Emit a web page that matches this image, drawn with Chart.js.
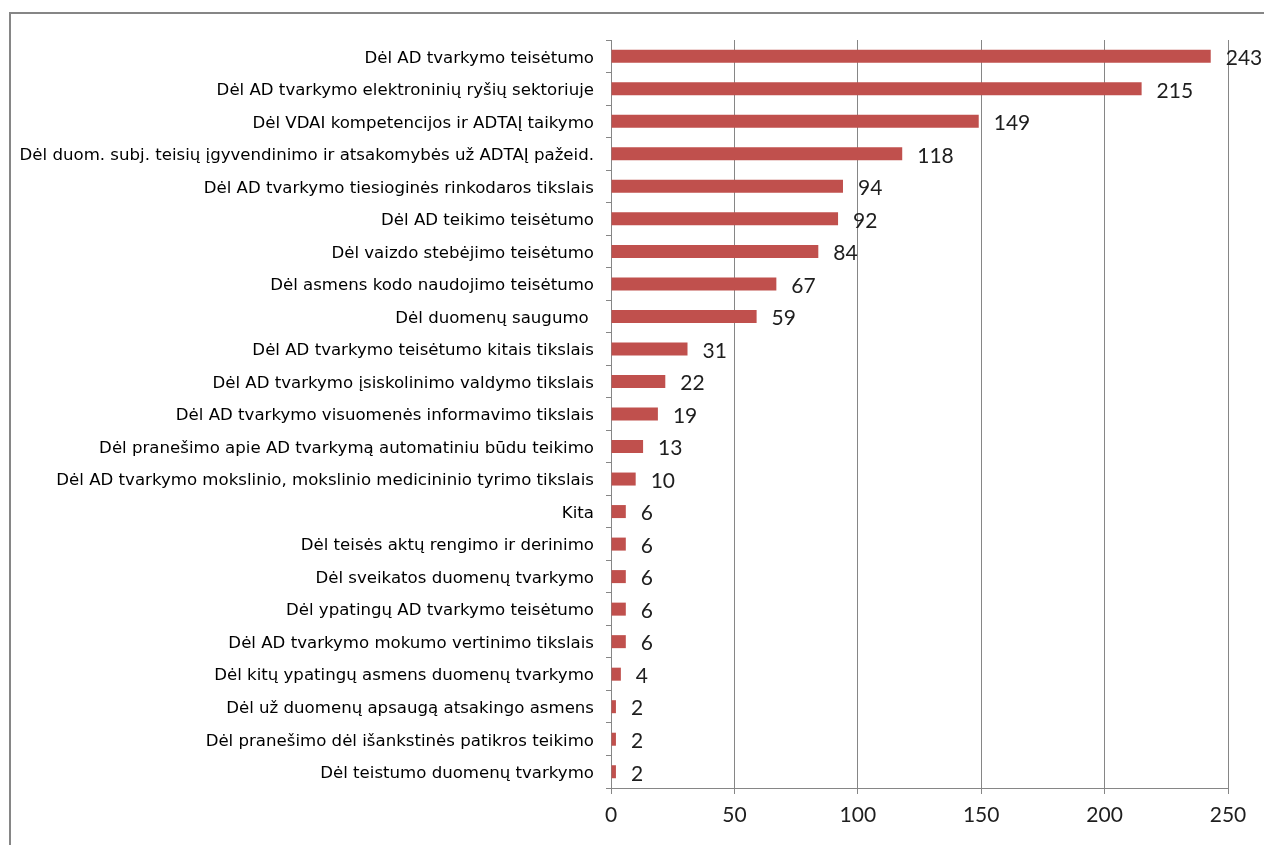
<!DOCTYPE html>
<html>
<head>
<meta charset="utf-8">
<script src="https://cdn.jsdelivr.net/npm/chart.js@4/dist/chart.umd.min.js"></script>
<style>
    html, body { margin: 0; padding: 0; background: #fff; overflow: hidden; }
    #frame { position: absolute; left: 9px; top: 12px; width: 1400px; height: 1000px; border: 2px solid #868686; }
    #wrap { position: absolute; left: 0; top: 0; width: 1264px; height: 845px; }
</style>
</head>
<body>
<div id="frame"></div>
<div id="wrap"><canvas id="chart" width="1264" height="845"></canvas></div>
<script>
// categories, top to bottom
var categories = [
    "Dėl AD tvarkymo teisėtumo",
    "Dėl AD tvarkymo elektroninių ryšių sektoriuje",
    "Dėl VDAI kompetencijos ir ADTAĮ taikymo",
    "Dėl duom. subj. teisių įgyvendinimo ir atsakomybės už ADTAĮ pažeid.",
    "Dėl AD tvarkymo tiesioginės rinkodaros tikslais",
    "Dėl AD teikimo teisėtumo",
    "Dėl vaizdo stebėjimo teisėtumo",
    "Dėl asmens kodo naudojimo teisėtumo",
    "Dėl duomenų saugumo ",
    "Dėl AD tvarkymo teisėtumo kitais tikslais",
    "Dėl AD tvarkymo įsiskolinimo valdymo tikslais",
    "Dėl AD tvarkymo visuomenės informavimo tikslais",
    "Dėl pranešimo apie AD tvarkymą automatiniu būdu teikimo",
    "Dėl AD tvarkymo mokslinio, mokslinio medicininio tyrimo tikslais",
    "Kita",
    "Dėl teisės aktų rengimo ir derinimo",
    "Dėl sveikatos duomenų tvarkymo",
    "Dėl ypatingų AD tvarkymo teisėtumo",
    "Dėl AD tvarkymo mokumo vertinimo tikslais",
    "Dėl kitų ypatingų asmens duomenų tvarkymo",
    "Dėl už duomenų apsaugą atsakingo asmens",
    "Dėl pranešimo dėl išankstinės patikros teikimo",
    "Dėl teistumo duomenų tvarkymo"
];
var values = [243, 215, 149, 118, 94, 92, 84, 67, 59, 31, 22, 19, 13, 10, 6, 6, 6, 6, 6, 4, 2, 2, 2];
var xTicks = [0, 50, 100, 150, 200, 250];

var barColor = "#C0504D";
var lineColor = "#868686";

// numbers printed right of each bar
var valueLabels = {
    id: "valueLabels",
    afterDatasetsDraw: function (chart) {
        var ctx = chart.ctx;
        var meta = chart.getDatasetMeta(0);
        ctx.save();
        ctx.font = "21px Lato";
        ctx.fillStyle = "#1e1e1e";
        ctx.textAlign = "left";
        ctx.textBaseline = "middle";
        meta.data.forEach(function (bar, i) {
            ctx.fillText(String(values[i]), bar.x + 15, bar.y + 2);
        });
        ctx.restore();
    }
};

new Chart(document.getElementById("chart"), {
    type: "bar",
    data: {
        labels: categories,
        datasets: [{
            data: values,
            backgroundColor: barColor,
            borderWidth: 0,
            barPercentage: 0.4,
            categoryPercentage: 1
        }]
    },
    options: {
        indexAxis: "y",
        responsive: false,
        animation: false,
        layout: { padding: { top: 40, right: 36, bottom: 0, left: 0 } },
        plugins: {
            legend: { display: false },
            tooltip: { enabled: false }
        },
        scales: {
            x: {
                min: 0,
                max: 250,
                afterBuildTicks: function (scale) {
                    scale.ticks = xTicks.map(function (v) { return { value: v }; });
                },
                afterFit: function (scale) { scale.height = 57; },
                grid: { color: lineColor, lineWidth: 1, tickLength: 6 },
                border: { color: lineColor, width: 1 },
                ticks: { color: "#1e1e1e", font: { family: "Lato", size: 21 }, padding: 9, maxRotation: 0 }
            },
            y: {
                afterFit: function (scale) { scale.width = 611; },
                grid: { color: lineColor, drawOnChartArea: false, tickLength: 5, offset: true },
                border: { color: lineColor, width: 1 },
                ticks: { color: "#000", font: { family: "DejaVu Sans", size: 16.6 }, padding: 12, labelOffset: 2, autoSkip: false }
            }
        }
    },
    plugins: [valueLabels]
});
</script>
</body>
</html>
